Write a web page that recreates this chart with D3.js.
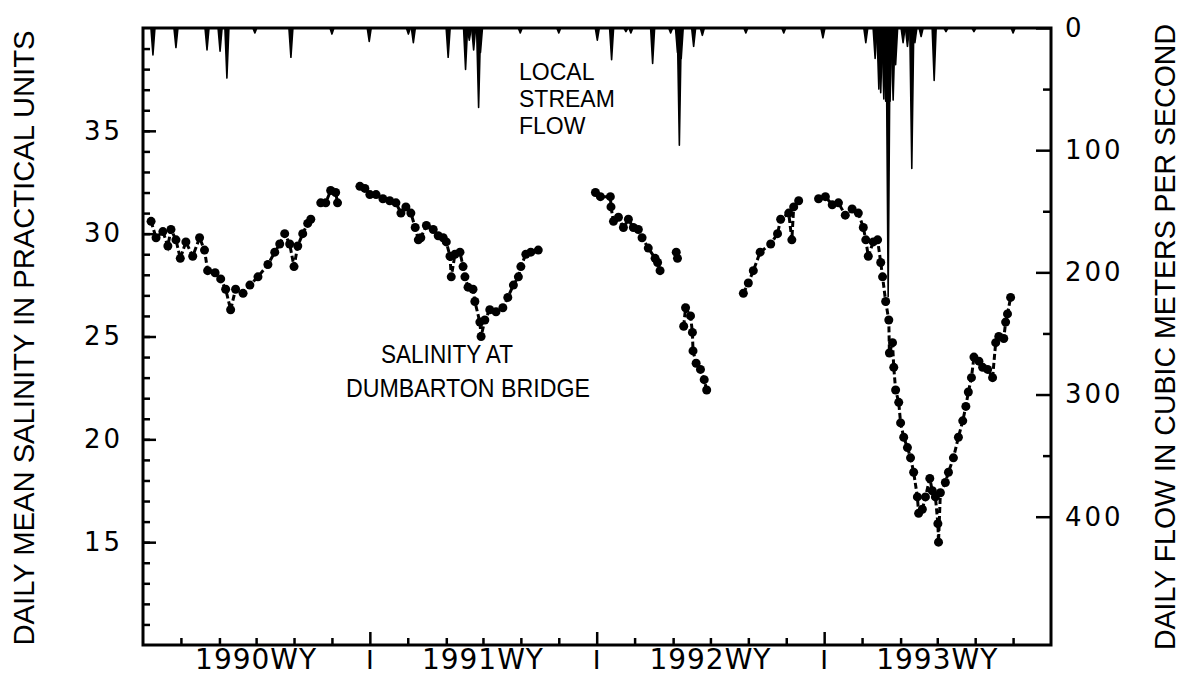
<!DOCTYPE html>
<html>
<head>
<meta charset="utf-8">
<script src="https://cdn.jsdelivr.net/npm/d3@7"></script>
<style>
  body { margin: 0; background: #fff; }
  svg { display: block; }
</style>
</head>
<body>
<script>
// salinity at Dumbarton Bridge (null = gap in record)
const salinityDates = [
  "1989-10-14","1989-10-22","1989-11-02","1989-11-10","1989-11-15","1989-11-23","1989-11-30","1989-12-09","1989-12-20","1989-12-31",
  "1990-01-08","1990-01-13","1990-01-25","1990-02-03","1990-02-11","1990-02-19","1990-02-27","1990-03-11","1990-03-22","1990-04-04",
  "1990-04-20","1990-05-01","1990-05-09","1990-05-17","1990-05-25","1990-06-01","1990-06-07","1990-06-15","1990-06-23","1990-06-28",
  "1990-07-06",
  "1990-07-14","1990-07-22","1990-07-30","1990-08-07","1990-08-10",
  "1990-08-25",
  "1990-09-15","1990-09-23","1990-10-01","1990-10-11","1990-10-22","1990-11-02","1990-11-12","1990-11-20","1990-11-28","1990-12-06",
  "1990-12-13","1990-12-18","1990-12-22","1990-12-31","1991-01-11","1991-01-19","1991-01-27","1991-02-01","1991-02-07","1991-02-09",
  "1991-02-15","1991-02-23","1991-02-28","1991-03-03","1991-03-08","1991-03-16","1991-03-19","1991-03-27","1991-03-29","1991-04-04",
  "1991-04-12","1991-04-22","1991-05-03","1991-05-11","1991-05-20","1991-05-28","1991-06-01","1991-06-09","1991-06-17","1991-06-29",
  "1991-08-01",
  "1991-09-29","1991-10-07","1991-10-23","1991-10-24","1991-10-28","1991-11-05","1991-11-13","1991-11-21","1991-11-29","1991-12-07",
  "1991-12-13","1991-12-23","1992-01-03","1992-01-07","1992-01-11",
  "1992-01-25",
  "1992-02-06","1992-02-08",
  "1992-02-12",
  "1992-02-18","1992-02-21","1992-02-29","1992-03-03","1992-03-04","1992-03-09","1992-03-16","1992-03-22","1992-03-26",
  "1992-04-20",
  "1992-05-24","1992-06-01","1992-06-09","1992-06-20","1992-07-07","1992-07-18","1992-07-23","1992-08-05","1992-08-10","1992-08-13",
  "1992-08-21",
  "1992-09-05",
  "1992-09-22","1992-10-03","1992-10-14","1992-10-24","1992-11-04","1992-11-15","1992-11-25","1992-12-03","1992-12-07","1992-12-11",
  "1992-12-19","1992-12-26","1992-12-31","1993-01-03","1993-01-08","1993-01-13","1993-01-14","1993-01-19","1993-01-21","1993-01-24",
  "1993-01-29","1993-02-01","1993-02-06","1993-02-12","1993-02-17","1993-02-22","1993-02-28","1993-03-02","1993-03-08","1993-03-13",
  "1993-03-20","1993-03-24","1993-03-29","1993-04-02","1993-04-03","1993-04-06","1993-04-14","1993-04-19","1993-04-27","1993-05-05",
  "1993-05-12","1993-05-17","1993-05-21","1993-05-26","1993-05-30","1993-06-07","1993-06-13","1993-06-21","1993-06-29","1993-07-04",
  "1993-07-09","1993-07-17","1993-07-20","1993-07-23","1993-07-28"
]
const salinityValues = [
  30.6,29.8,30.1,29.4,30.2,29.7,28.8,29.6,28.9,29.8,
  29.2,28.2,28.1,27.8,27.3,26.3,27.3,27.1,27.5,27.9,
  28.5,29.1,29.5,30.0,29.5,28.4,29.4,30.0,30.5,30.7,
  null,
  31.5,31.5,32.1,32.0,31.5,
  null,
  32.3,32.2,31.9,31.9,31.7,31.6,31.5,31.0,31.3,31.0,
  30.3,29.7,29.8,30.4,30.2,29.9,29.8,29.6,28.9,27.9,
  29.0,29.1,28.4,27.9,27.4,27.3,26.7,25.7,25.0,25.8,
  26.3,26.2,26.4,26.9,27.5,27.9,28.4,29.0,29.1,29.2,
  null,
  32.0,31.8,31.8,31.3,30.6,30.8,30.3,30.7,30.3,30.2,
  29.8,29.3,28.8,28.6,28.2,
  null,
  29.1,28.8,
  null,
  25.5,26.4,26.0,25.2,24.3,23.7,23.4,22.9,22.4,
  null,
  27.1,27.6,28.2,29.1,29.5,30.0,30.7,31.0,29.7,31.3,
  31.6,
  null,
  31.7,31.8,31.4,31.5,30.9,31.2,31.0,30.3,29.7,28.9,
  29.6,29.7,28.6,27.9,26.7,25.8,24.2,24.7,23.5,22.4,
  21.8,20.8,20.1,19.6,19.1,18.4,17.2,16.4,16.6,17.2,
  18.1,17.5,17.2,15.9,15.0,17.4,17.9,18.4,19.1,20.1,
  20.9,21.6,22.3,23.0,24.0,23.8,23.5,23.4,23.0,24.7,
  25.0,24.9,25.7,26.1,26.9
]

// local stream flow peaks, m3/s
const flowDates = [
  "1989-10-17","1989-11-23","1990-01-12","1990-02-02","1990-02-13","1990-03-30","1990-05-27","1990-08-01","1990-09-30","1990-12-02",
  "1990-12-10","1991-02-04","1991-03-04","1991-03-10","1991-03-17","1991-03-25","1991-03-28","1991-05-31","1991-08-01","1991-10-02",
  "1991-10-25","1991-11-17","1991-11-25","1991-12-30","1992-01-28","1992-02-08","1992-02-11","1992-02-14","1992-03-05","1992-03-19",
  "1992-05-28","1992-07-28","1992-09-29","1992-12-07","1992-12-22","1992-12-28","1992-12-31","1993-01-05","1993-01-08","1993-01-12",
  "1993-01-15","1993-01-20","1993-01-24","1993-02-05","1993-02-12","1993-02-19","1993-02-24","1993-03-06","1993-03-27","1993-04-15",
  "1993-05-30","1993-08-01"
]
const flowValues = [
  22,16,18,19,41,4,24,5,11,5,
  12,24,34,10,18,65,20,4,4,10,
  26,3,4,29,4,20,96,25,15,6,
  4,4,8,12,25,50,53,58,60,220,
  60,59,30,12,15,115,12,7,43,3,
  3,4
]

const salinityTicks = [15, 20, 25, 30, 35]
const flowTicks = [0, 100, 200, 300, 400]
const waterYears = ["1990WY", "1991WY", "1992WY", "1993WY"]

const width = 1183, height = 677
const plot = { left: 143, right: 1051, top: 28, bottom: 645 }
const font = "'Liberation Sans', Arial, sans-serif"
const numFont = "'DejaVu Sans', sans-serif"

const parse = d3.timeParse("%Y-%m-%d")

const x = d3.scaleTime()
  .domain([new Date(1989, 9, 1), new Date(1993, 9, 1)])
  .range([plot.left, plot.right])
const ySal = d3.scaleLinear().domain([10, 40]).range([plot.bottom, plot.top])
const yFlow = d3.scaleLinear().domain([0, 505]).range([plot.top, plot.bottom])

const svg = d3.select("body").append("svg")
  .attr("width", width)
  .attr("height", height)

// ---- stream flow, hanging from the top ----
const spike = d3.line()
svg.append("g").selectAll("path")
  .data(flowDates.map((d, i) => ({ date: parse(d), value: flowValues[i] })))
  .enter()
  .append("path")
  .attr("d", d => {
    const cx = x(d.date)
    return spike([[cx - 2, plot.top], [cx, yFlow(d.value)], [cx + 2, plot.top]]) + "Z"
  })
  .attr("fill", "#000")
  .attr("stroke", "#000")
  .attr("stroke-width", 1.6)
  .attr("stroke-linejoin", "round")

// ---- salinity ----
const sal = salinityDates.map((d, i) => ({ date: parse(d), value: salinityValues[i] }))
const salLine = d3.line()
  .defined(d => d.value != null)
  .x(d => x(d.date))
  .y(d => ySal(d.value))

svg.append("path")
  .datum(sal)
  .attr("d", salLine)
  .attr("fill", "none")
  .attr("stroke", "#000")
  .attr("stroke-width", 3)
  .attr("stroke-dasharray", "6,3")

svg.append("g").selectAll("circle")
  .data(sal.filter(d => d.value != null))
  .enter()
  .append("circle")
  .attr("cx", d => x(d.date))
  .attr("cy", d => ySal(d.value))
  .attr("r", 4.5)
  .attr("fill", "#000")

// ---- axes ----
function clean(g) {
  g.select(".domain").remove()
  g.selectAll("line").attr("stroke", "#000").attr("stroke-width", 2.5)
  g.selectAll("text").attr("font-family", numFont).attr("font-size", 26)
    .attr("letter-spacing", 3).attr("fill", "#000")
}

svg.append("g")
  .attr("transform", `translate(${plot.left},0)`)
  .call(d3.axisLeft(ySal).tickValues(d3.range(11, 40)).tickSize(-7).tickFormat(""))
  .call(clean)
svg.append("g")
  .attr("transform", `translate(${plot.left},0)`)
  .call(d3.axisLeft(ySal).tickValues(salinityTicks).tickSize(-13).tickPadding(20))
  .call(clean)

svg.append("g")
  .attr("transform", `translate(${plot.right},0)`)
  .call(d3.axisRight(yFlow).tickValues([50, 150, 250, 350]).tickSize(-8).tickFormat(""))
  .call(clean)
svg.append("g")
  .attr("transform", `translate(${plot.right},0)`)
  .call(d3.axisRight(yFlow).tickValues(flowTicks).tickSize(-15).tickPadding(14))
  .call(clean)

const months = d3.timeMonth.range(new Date(1989, 10, 1), new Date(1993, 9, 1))
  .filter(d => d.getMonth() % 2 === 1)
const yearStarts = months.filter(d => d.getMonth() === 9)
svg.append("g")
  .attr("transform", `translate(0,${plot.bottom})`)
  .call(d3.axisBottom(x).tickValues(months.filter(d => d.getMonth() !== 9)).tickSize(-7).tickFormat(""))
  .call(clean)
svg.append("g")
  .attr("transform", `translate(0,${plot.bottom})`)
  .call(d3.axisBottom(x).tickValues(yearStarts).tickSize(-13).tickFormat(""))
  .call(clean)

// frame
svg.append("rect")
  .attr("x", plot.left).attr("y", plot.top)
  .attr("width", plot.right - plot.left).attr("height", plot.bottom - plot.top)
  .attr("fill", "none")
  .attr("stroke", "#000")
  .attr("stroke-width", 3)

// water year labels and separators
svg.append("g").selectAll("text")
  .data(waterYears)
  .enter()
  .append("text")
  .attr("x", (d, i) => x(new Date(1990 + i, 3, 1)))
  .attr("y", 669)
  .attr("text-anchor", "middle")
  .attr("font-family", numFont)
  .attr("font-size", 28)
  .attr("letter-spacing", 1)
  .text(d => d)

svg.append("g").selectAll("text")
  .data(yearStarts)
  .enter()
  .append("text")
  .attr("x", d => x(d))
  .attr("y", 669)
  .attr("text-anchor", "middle")
  .attr("font-family", font)
  .attr("font-size", 28)
  .text("I")

// axis titles
svg.append("text")
  .attr("transform", "translate(34,338) rotate(-90)")
  .attr("text-anchor", "middle")
  .attr("font-family", font)
  .attr("font-size", 30)
  .attr("textLength", 615)
  .attr("lengthAdjust", "spacingAndGlyphs")
  .text("DAILY MEAN SALINITY IN PRACTICAL UNITS")

svg.append("text")
  .attr("transform", "translate(1175,337) rotate(-90)")
  .attr("text-anchor", "middle")
  .attr("font-family", font)
  .attr("font-size", 29)
  .attr("textLength", 626)
  .attr("lengthAdjust", "spacingAndGlyphs")
  .text("DAILY FLOW IN CUBIC METERS PER SECOND")

// annotations
const streamLabel = ["LOCAL", "STREAM", "FLOW"]
svg.append("g").selectAll("text")
  .data(streamLabel)
  .enter()
  .append("text")
  .attr("x", 519)
  .attr("y", (d, i) => 80 + i * 27)
  .attr("font-family", font)
  .attr("font-size", 23)
  .text(d => d)

svg.append("text")
  .attr("x", 381).attr("y", 363)
  .attr("font-family", font)
  .attr("font-size", 25)
  .attr("textLength", 132)
  .attr("lengthAdjust", "spacingAndGlyphs")
  .text("SALINITY AT")
svg.append("text")
  .attr("x", 346).attr("y", 397)
  .attr("font-family", font)
  .attr("font-size", 25)
  .attr("textLength", 244)
  .attr("lengthAdjust", "spacingAndGlyphs")
  .text("DUMBARTON BRIDGE")
</script>
</body>
</html>
